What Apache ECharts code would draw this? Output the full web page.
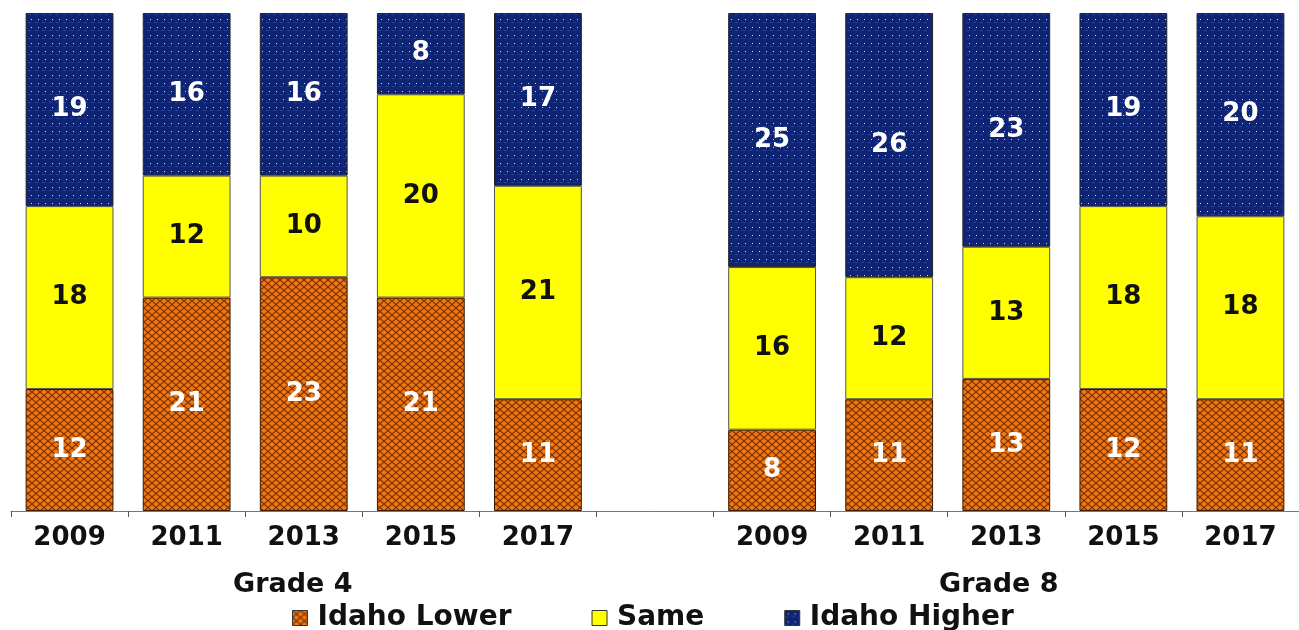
<!DOCTYPE html>
<html>
<head>
<meta charset="utf-8">
<script src="https://cdn.jsdelivr.net/npm/echarts@6/dist/echarts.min.js"></script>
<style>
html,body{margin:0;padding:0;background:#fff;}
#chart{width:1299px;height:630px;}
</style>
</head>
<body>
<div id="chart"></div>
<script>
const categories = ['2009','2011','2013','2015','2017','','2009','2011','2013','2015','2017'];
const idahoLower = [12,21,23,21,11,null,8,11,13,12,11];
const same = [18,12,10,20,21,null,16,12,13,18,18];
const idahoHigher = [19,16,16,8,17,null,25,26,23,19,20];
const seriesNames = ['Idaho Lower','Same','Idaho Higher'];
const groupLabels = ['Grade 4','Grade 8'];

function makeHatch(){
  const c=document.createElement('canvas'); c.width=8; c.height=7;
  const g=c.getContext('2d');
  g.fillStyle='#EE7814'; g.fillRect(0,0,8,7);
  g.strokeStyle='#7A2E00'; g.lineWidth=1.1;
  g.beginPath(); g.moveTo(0,0); g.lineTo(8,7); g.moveTo(8,0); g.lineTo(0,7); g.stroke();
  return c;
}
function makeDots(){
  const c=document.createElement('canvas'); c.width=7; c.height=8;
  const g=c.getContext('2d');
  g.fillStyle='#0F2472'; g.fillRect(0,0,7,8);
  g.fillStyle='#22409C'; g.fillRect(0,6,3,1);
  g.fillStyle='#D0DAFF'; g.fillRect(3,3,1,1);
  return c;
}
const hatch={image:makeHatch(),repeat:'repeat'};
const dots={image:makeDots(),repeat:'repeat'};

const FONT='DejaVu Sans';
const chart=echarts.init(document.getElementById('chart'),null,{renderer:'canvas'});
function lbl(color){
  return {show:true,position:'inside',color:color,fontFamily:FONT,fontWeight:'bold',fontSize:26,
    formatter:p=>p.value==null?'':p.value};
}
chart.setOption({
  animation:false,
  backgroundColor:'#fff',
  grid:{left:11,right:0,top:13,bottom:119,containLabel:false},
  legend:{
    left:287,top:599,itemWidth:15,itemHeight:15,itemGap:80,icon:'rect',
    data:seriesNames,
    textStyle:{fontFamily:FONT,fontWeight:'bold',fontSize:28,color:'#111',padding:[0,0,0,5]},
    itemStyle:{borderColor:'#333',borderWidth:1}
  },
  xAxis:{
    type:'category',data:categories,
    axisLine:{lineStyle:{color:'#777',width:1}},
    axisTick:{show:true,length:6,lineStyle:{color:'#555'}},
    axisLabel:{fontFamily:FONT,fontWeight:'bold',fontSize:26,color:'#111',margin:14,interval:0}
  },
  yAxis:{type:'value',min:0,max:49,show:false,splitLine:{show:false}},
  graphic:[
    {type:'text',left:233,top:571,style:{text:groupLabels[0],font:'bold 27px "DejaVu Sans"',fill:'#111'}},
    {type:'text',left:939,top:571,style:{text:groupLabels[1],font:'bold 27px "DejaVu Sans"',fill:'#111'}}
  ],
  series:[
    {name:seriesNames[0],type:'bar',stack:'s',barWidth:'75%',data:idahoLower,
      itemStyle:{color:hatch,borderColor:'#3a1a00',borderWidth:1},label:lbl('#fff')},
    {name:seriesNames[1],type:'bar',stack:'s',data:same,
      itemStyle:{color:'#FFFF00',borderColor:'#555',borderWidth:1},label:lbl('#111')},
    {name:seriesNames[2],type:'bar',stack:'s',data:idahoHigher,
      itemStyle:{color:dots,borderColor:'#222',borderWidth:1},label:lbl('#fff')}
  ]
});
</script>
</body>
</html>
